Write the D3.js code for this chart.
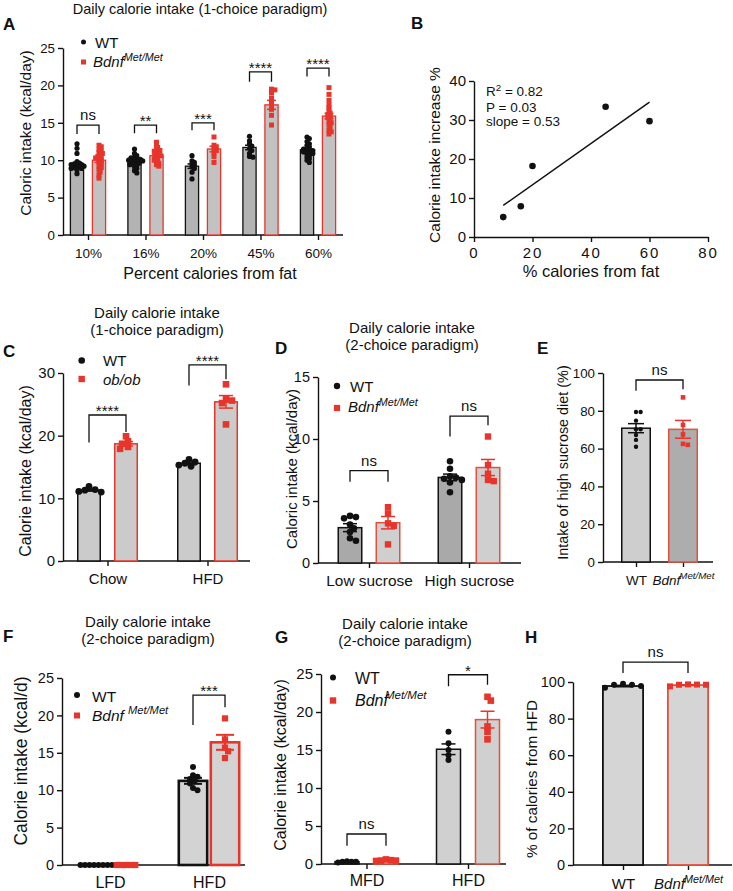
<!DOCTYPE html>
<html><head><meta charset="utf-8">
<script src="https://cdn.jsdelivr.net/npm/d3@7"></script>
<style>
body{margin:0;background:#fff}
svg{font-family:Arial,"Liberation Sans",Helvetica,sans-serif}
</style></head><body>
<svg id="fig" width="733" height="891"></svg>
<script>
// ================= DATA =================
// Panel A
const aCategories = ["10%","16%","20%","45%","60%"];
const aYTicks = [0,5,10,15,20,25];
const aWTMean = [9.45, 9.8, 9.2, 11.7, 11.4];
const aWTSem  = [0.25, 0.17, 0.3, 0.3, 0.2];
const aMutMean = [10.0, 10.6, 11.5, 17.4, 15.9];
const aMutSem  = [0.3, 0.2, 0.38, 0.6, 0.35];
const aWTPoints = [
  [12.2,11.6,10.9,9.4,9.8,9.6,9.5,9.4,9.3,9.2,9.1,9.0,8.9,8.7,8.2,8.9],
  [11.5,10.9,10.6,10.4,10.3,10.2,10.1,10.0,9.9,9.8,9.7,9.6,9.5,9.4,9.3,9.1,8.9,8.6,8.3,10.0],
  [10.6,9.9,9.7,9.5,9.3,9.1,8.9,8.4,7.5],
  [13.2,12.6,12.2,11.9,11.6,11.3,10.9,10.5,10.4],
  [13.1,12.9,12.5,12.2,12.0,11.8,11.6,11.5,11.4,11.3,11.2,11.1,11.0,10.9,10.8,10.6,10.4,10.2,10.0,9.7]
];
const aMutPoints = [
  [12.0,11.8,11.4,11.2,10.9,10.7,10.5,10.3,10.1,9.9,9.7,9.5,9.2,9.0,8.7,8.4,8.0,7.6,11.0,10.4],
  [12.4,12.0,11.7,11.4,11.2,11.0,10.8,10.7,10.5,10.3,10.1,10.0,9.8,9.6,9.4,9.2,11.3,10.6],
  [13.1,12.0,11.8,11.5,11.3,11.0,10.5,9.7],
  [19.5,19.4,19.0,18.3,17.8,17.2,16.8,16.0,14.7],
  [19.7,18.8,18.0,17.4,17.0,16.6,16.3,16.1,15.9,15.7,15.5,15.2,15.0,14.7,14.4,14.0,13.8,13.5]
];
const aBrackets = [
  {cat:0, y:14.7, l:13.5, r:13.5, label:"ns"},
  {cat:1, y:14.7, l:13.6, r:13.6, label:"**"},
  {cat:2, y:15.0, l:14.0, r:14.0, label:"***"},
  {cat:3, y:21.8, l:20.5, r:20.5, label:"****"},
  {cat:4, y:22.3, l:21.2, r:21.2, label:"****"}
];

// Panel B
const bFatPct = [10,16,20,45,60];
const bIncrease = [5.1,7.9,18.2,33.4,29.7];
const bFitX = [10,60];
const bFitY = [8.1,34.6];
const bXTicks = [0,20,40,60,80];
const bYTicks = [0,10,20,30,40];
const bStats = ["= 0.82","P = 0.03","slope = 0.53"];

// Panel C
const cCategories = ["Chow","HFD"];
const cYTicks = [0,10,20,30];
const cWTMean = [11.3,15.6];
const cWTSem = [0.15,0.2];
const cMutMean = [18.7,25.4];
const cMutSem = [0.35,1.0];
const cWTPoints = [[11.9,11.4,11.3,11.1,11.0],[16.2,15.8,15.6,15.3,15.1]];
const cMutPoints = [[19.9,19.1,18.7,18.2,17.9],[28.2,25.8,25.6,25.2,21.8]];
const cBrackets = [
  {cat:0, y:23.3, l:18.9, r:20.6, label:"****"},
  {cat:1, y:31.3, l:28.0, r:29.0, label:"****"}
];

// Panel D
const dCategories = ["Low sucrose","High sucrose"];
const dYTicks = [0,5,10,15];
const dWTMean = [2.85,6.9];
const dWTSem = [0.32,0.27];
const dMutMean = [3.25,7.7];
const dMutSem = [0.5,0.65];
const dWTPoints = [[3.8,3.7,3.6,3.1,2.8,2.5,2.0,1.8],[8.2,7.6,7.0,6.9,6.8,6.7,6.5,5.7]];
const dMutPoints = [[4.5,4.0,3.2,3.0,1.5],[10.2,7.9,7.2,6.7,6.6]];
const dBrackets = [
  {cat:0, y:7.45, l:6.55, r:6.55, label:"ns"},
  {cat:1, y:11.85, l:10.2, r:11.1, label:"ns"}
];

// Panel E
const eCategories = ["WT","Bdnf"];
const eYTicks = [0,20,40,60,80,100];
const eMean = [70.8,70.2];
const eSem = [2.4,4.7];
const ePoints = [[79.4,79.4,74.8,70.2,70.2,67.2,64.6,61.0],[87.1,72.5,67.5,62.0,62.5]];
const eBracket = {y:96.3, l:90.6, r:91.4, label:"ns"};

// Panel F
const fCategories = ["LFD","HFD"];
const fYTicks = [0,5,10,15,20,25];
const fWTMean = [0,11.25];
const fWTSem = [0,0.4];
const fMutMean = [0,16.4];
const fMutSem = [0,1.0];
const fWTPoints = [[0,0,0,0,0,0,0,0],[13.1,12.0,11.8,11.5,11.2,10.9,10.3,10.0]];
const fMutPoints = [[0,0,0,0,0],[19.6,16.8,15.7,15.2,14.3]];
const fBrackets = [{cat:1, y:22.7, l:18.7, r:21.1, label:"***"}];

// Panel G
const gCategories = ["MFD","HFD"];
const gYTicks = [0,5,10,15,20,25];
const gWTMean = [0.3,15.1];
const gWTSem = [0.04,0.7];
const gMutMean = [0.45,19.0];
const gMutSem = [0.05,1.1];
const gWTPoints = [[0.35,0.3,0.3,0.3,0.2],[17.4,15.9,15.0,14.3,13.7]];
const gMutPoints = [[0.6,0.5,0.45,0.45,0.4],[22.0,21.5,18.1,17.4,16.4]];
const gBrackets = [
  {cat:0, y:3.95, l:2.4, r:2.4, label:"ns"},
  {cat:1, y:24.9, l:23.4, r:23.6, label:"*"}
];

// Panel H
const hCategories = ["WT","Bdnf"];
const hYTicks = [0,20,40,60,80,100];
const hMean = [97.8,98.3];
const hSem = [0.4,0.2];
const hPoints = [[97.8,99.0,98.5,98.5,96.8],[98.5,98.7,98.5,98.6,97.6]];
const hBracket = {y:110.9, l:104.9, r:104.9, label:"ns"};

// ================= DRAWING =================
const svg = d3.select("#fig");
const RED = "#e8352b";
const FONT = "Arial, 'Liberation Sans', Helvetica, sans-serif";
const pick = (v,i) => Array.isArray(v) ? v[i] : v;

function mutText(sel, base, sup, dx) {
  sel.text(null);
  sel.append("tspan").attr("font-style","italic").text(base);
  sel.append("tspan").attr("font-style","italic").attr("font-size","0.72em")
     .attr("dy","-0.55em").attr("dx", dx||0).text(sup);
}

function txt(x, y, s, size, opts={}) {
  const t = svg.append("text").attr("x",x).attr("y",y).attr("font-size",size)
    .attr("font-family",FONT).attr("fill","#111")
    .attr("text-anchor", opts.anchor || "middle").text(s);
  if (opts.bold) t.attr("font-weight","bold");
  if (opts.italic) t.attr("font-style","italic");
  return t;
}
function ylabel(cx, cy, s, size) {
  svg.append("text").attr("transform",`translate(${cx},${cy}) rotate(-90)`)
    .attr("text-anchor","middle").attr("dominant-baseline","central")
    .attr("font-size",size).attr("font-family",FONT).attr("fill","#111").text(s);
}
function styleAxis(sel, size, sw) {
  sel.attr("font-family",FONT).attr("font-size",size);
  sel.selectAll("path,line").attr("stroke","#111").attr("stroke-width",sw||1.4);
  sel.selectAll("text").attr("fill","#111");
}

function swarm(values, yScale, r, minDist, step) {
  const order = values.map((v,i)=>({v,i,y:yScale(v)})).sort((a,b)=>a.y-b.y);
  const placed = [];
  const out = new Array(values.length);
  order.forEach(p => {
    let dx = 0;
    for (let n=0; n<400; n++) {
      dx = n===0 ? 0 : (n%2 ? 1 : -1) * Math.ceil(n/2) * step;
      if (placed.every(q => Math.hypot(q.x-dx, q.y-p.y) >= minDist)) break;
    }
    placed.push({x:dx, y:p.y});
    out[p.i] = {v:p.v, dx, y:p.y};
  });
  return out;
}

function drawSymbol(g, shape, x, y, r, color) {
  if (shape === "circle") {
    g.append("circle").attr("cx",x).attr("cy",y).attr("r",r).attr("fill",color);
  } else {
    g.append("rect").attr("x",x-r).attr("y",y-r).attr("width",2*r).attr("height",2*r).attr("fill",color);
  }
}

function barPanel(o) {
  const g = svg.append("g");
  const y = d3.scaleLinear().domain([0, d3.max(o.yTicks)]).range([o.y0, o.y1]);
  const xg = d3.scalePoint().domain(o.cats).range(o.centers);
  const keys = o.series.map(s => s.key);
  const half = keys.length > 1 ? (o.d + o.w)/2 : o.w/2;
  const xs = d3.scaleBand().domain(keys).range([-half, half])
    .paddingInner(keys.length > 1 ? 1 - o.w/o.d : 0).paddingOuter(0);
  const bw = xs.bandwidth();
  const cx = (ci, key) => xg(o.cats[ci]) + xs(key) + bw/2;

  // axes
  const ya = g.append("g").attr("transform",`translate(${o.x0},0)`)
    .call(d3.axisLeft(y).tickValues(o.yTicks).tickSize(5).tickSizeOuter(0).tickPadding(3).tickFormat(d3.format("d")));
  styleAxis(ya, o.yTickFont);
  const xa = g.append("g").attr("transform",`translate(0,${o.y0})`)
    .call(d3.axisBottom(xg).tickSize(o.xTickSize).tickPadding(o.xTickPad).tickSizeOuter(0));
  xa.select(".domain").remove();
  styleAxis(xa, o.xTickFont);
  xa.selectAll(".tick text").each(function(d){
    if (d === "Bdnf") mutText(d3.select(this), "Bdnf", "Met/Met", -1);
  });
  g.append("line").attr("x1",o.x0).attr("x2",o.x1).attr("y1",o.y0).attr("y2",o.y0)
    .attr("stroke","#111").attr("stroke-width",1.4);

  // bars
  o.series.forEach(s => {
    s.means.forEach((m, ci) => {
      if (m <= 0) return;
      const x = cx(ci, s.key);
      const sw = pick(s.strokeWidth, ci);
      g.append("rect").attr("x", x - bw/2 + sw/2).attr("width", bw - sw)
        .attr("y", y(m)).attr("height", y(0) - y(m))
        .attr("fill", pick(s.fill, ci)).attr("stroke", pick(s.stroke, ci)).attr("stroke-width", sw);
    });
  });
  // points
  o.series.forEach(s => {
    s.points.forEach((vals, ci) => {
      const x = cx(ci, s.key);
      const r = pick(s.r, ci);
      const sw = swarm(vals, y, r, o.minDist * r, o.step * r);
      sw.forEach(p => drawSymbol(g, pick(s.shape, ci), x + p.dx, p.y, r, pick(s.color, ci)));
    });
  });
  // error bars
  o.series.forEach(s => {
    s.means.forEach((m, ci) => {
      const e = s.sems[ci];
      if (!e) return;
      const x = cx(ci, s.key);
      const col = pick(s.errColor, ci);
      const ew = o.errWidth || 1.5;
      g.append("line").attr("x1",x).attr("x2",x).attr("y1",y(m-e)).attr("y2",y(m+e)).attr("stroke",col).attr("stroke-width",ew);
      [m-e, m+e].forEach(v => g.append("line").attr("x1",x-o.cap/2).attr("x2",x+o.cap/2)
        .attr("y1",y(v)).attr("y2",y(v)).attr("stroke",col).attr("stroke-width",ew));
    });
  });
  // brackets
  o.brackets.forEach(b => {
    const xl = b.a ? cx(b.a[0], keys[b.a[1]]) : cx(b.cat, keys[0]);
    const xr = b.b ? cx(b.b[0], keys[b.b[1]]) : cx(b.cat, keys[keys.length-1]);
    g.append("path").attr("d", `M${xl},${y(b.l)}V${y(b.y)}H${xr}V${y(b.r)}`)
      .attr("fill","none").attr("stroke","#111").attr("stroke-width",1.3);
    const star = b.label.includes("*");
    g.append("text").attr("x",(xl+xr)/2).attr("y", y(b.y) + (star ? o.starDy : -5))
      .attr("text-anchor","middle").attr("font-size", o.sigFont).attr("font-family",FONT)
      .attr("fill","#111").text(b.label);
  });
  return {y, xg};
}

function legend(items) {
  items.forEach(it => {
    drawSymbol(svg, it.shape, it.x, it.y, it.r, it.color);
    const t = txt(it.tx, it.ty, it.label, it.size, {anchor:"start", italic: it.italic});
    if (it.sup) mutText(t, it.label, it.sup, it.supDx || 0);
  });
}

// ---------- Panel A ----------
txt(200, 14, "Daily calorie intake (1-choice paradigm)", 14.5);
txt(3, 30, "A", 17, {anchor:"start", bold:true});
barPanel({
  x0:63, x1:343, y0:235, y1:48, yTicks:aYTicks, yTickFont:13.3,
  cats:aCategories, centers:[88,318], d:22, w:14.5, cap:9,
  xTickSize:5, xTickPad:8, xTickFont:13.5, minDist:1.0, step:0.45, sigFont:15, starDy:1,
  series:[
    {key:"WT", means:aWTMean, sems:aWTSem, points:aWTPoints, fill:"#b3b3b3", stroke:"#111", strokeWidth:1.3, shape:"circle", color:"#111", r:2.6, errColor:"#111"},
    {key:"Mut", means:aMutMean, sems:aMutSem, points:aMutPoints, fill:"#c2c2c2", stroke:RED, strokeWidth:1.3, shape:"square", color:RED, r:2.5, errColor:RED}
  ],
  brackets:aBrackets
});
ylabel(25.5, 133, "Caloric intake (kcal/day)", 15.5);
txt(210, 279, "Percent calories from fat", 16);
legend([
  {shape:"circle", r:2.5, color:"#111", x:83.5, y:42, tx:95, ty:47.5, label:"WT", size:15},
  {shape:"square", r:2.5, color:RED, x:83.5, y:62, tx:93, ty:67, label:"Bdnf", sup:"Met/Met", size:15}
]);

// ---------- Panel B ----------
txt(411, 29, "B", 17, {anchor:"start", bold:true});
{
  const bx = d3.scaleLinear().domain([0,80]).range([474,708]);
  const by = d3.scaleLinear().domain([0,40]).range([237,81]);
  const xa = svg.append("g").attr("transform","translate(0,237)")
    .call(d3.axisBottom(bx).tickValues(bXTicks).tickSize(5).tickSizeOuter(0).tickPadding(5));
  styleAxis(xa, 15);
  xa.selectAll(".tick text").attr("letter-spacing","2px");
  const ya = svg.append("g").attr("transform","translate(474,0)")
    .call(d3.axisLeft(by).tickValues(bYTicks).tickSize(5).tickSizeOuter(0).tickPadding(3));
  styleAxis(ya, 15);
  svg.append("line").attr("x1",bx(bFitX[0])).attr("y1",by(bFitY[0])).attr("x2",bx(bFitX[1])).attr("y2",by(bFitY[1]))
    .attr("stroke","#111").attr("stroke-width",1.5);
  bFatPct.forEach((v,i) => svg.append("circle").attr("cx",bx(v)).attr("cy",by(bIncrease[i])).attr("r",3.3).attr("fill","#111"));
  const t0 = txt(486, 96, "R", 13.5, {anchor:"start"});
  t0.append("tspan").attr("font-size","0.72em").attr("dy","-0.5em").text("2");
  t0.append("tspan").attr("dy","0.36em").text(" " + bStats[0]);
  txt(486, 112, bStats[1], 13.5, {anchor:"start"});
  txt(486, 126, bStats[2], 13.5, {anchor:"start"});
}
ylabel(434, 155, "Calorie intake increase %", 15.5);
txt(591, 277, "% calories from fat", 16.5);

// ---------- Panel C ----------
txt(157, 318, "Daily calorie intake", 15);
txt(157, 335, "(1-choice paradigm)", 15);
txt(3, 357, "C", 17, {anchor:"start", bold:true});
barPanel({
  x0:63, x1:250, y0:561, y1:373, yTicks:cYTicks, yTickFont:15,
  cats:cCategories, centers:[107.5,207.5], d:37, w:24, cap:14,
  xTickSize:5, xTickPad:7, xTickFont:15, minDist:1.6, step:0.6, sigFont:15, starDy:1,
  series:[
    {key:"WT", means:cWTMean, sems:cWTSem, points:cWTPoints, fill:"#cbcbcb", stroke:"#111", strokeWidth:1.5, shape:"circle", color:"#111", r:3.4, errColor:"#111"},
    {key:"Mut", means:cMutMean, sems:cMutSem, points:cMutPoints, fill:"#cbcbcb", stroke:RED, strokeWidth:1.5, shape:"square", color:RED, r:3.3, errColor:RED}
  ],
  brackets:cBrackets
});
ylabel(25.5, 471, "Calorie intake (kcal/day)", 16);
legend([
  {shape:"circle", r:3.3, color:"#111", x:81.7, y:360.5, tx:103, ty:366, label:"WT", size:15},
  {shape:"square", r:3.2, color:RED, x:81.7, y:379, tx:103, ty:385, label:"ob/ob", italic:true, size:15}
]);

// ---------- Panel D ----------
txt(412, 333, "Daily calorie intake", 15);
txt(412, 350, "(2-choice paradigm)", 15);
txt(275, 354, "D", 17, {anchor:"start", bold:true});
barPanel({
  x0:318, x1:521, y0:563, y1:377, yTicks:dYTicks, yTickFont:14.5,
  cats:dCategories, centers:[369,469], d:38, w:25, cap:14,
  xTickSize:5, xTickPad:7, xTickFont:15.4, minDist:1.6, step:0.6, sigFont:15, starDy:1,
  series:[
    {key:"WT", means:dWTMean, sems:dWTSem, points:dWTPoints, fill:"#a9a9a9", stroke:"#111", strokeWidth:1.5, shape:"circle", color:"#111", r:3.3, errColor:"#111"},
    {key:"Mut", means:dMutMean, sems:dMutSem, points:dMutPoints, fill:"#cfcfcf", stroke:"#e4513f", strokeWidth:1.5, shape:"square", color:RED, r:3.2, errColor:RED}
  ],
  brackets:dBrackets
});
ylabel(291.5, 469, "Caloric intake (kcal/day)", 15);
legend([
  {shape:"circle", r:3.2, color:"#111", x:337, y:386, tx:350, ty:391.5, label:"WT", size:15},
  {shape:"square", r:3.1, color:RED, x:337, y:408, tx:348, ty:412, label:"Bdnf", sup:"Met/Met", size:15}
]);

// ---------- Panel E ----------
txt(537, 354, "E", 17, {anchor:"start", bold:true});
barPanel({
  x0:603, x1:713, y0:562, y1:373, yTicks:eYTicks, yTickFont:13.3,
  cats:eCategories, centers:[636,683], d:47, w:30, cap:16,
  xTickSize:5, xTickPad:8, xTickFont:13.5, minDist:1.7, step:0.7, sigFont:15, starDy:1,
  series:[
    {key:"v", means:eMean, sems:eSem, points:ePoints, fill:["#cecece","#adadad"], stroke:["#111","#e4513f"], strokeWidth:1.5, shape:["circle","square"], color:["#111",RED], r:[2.2,2.3], errColor:["#111",RED]}
  ],
  brackets:[Object.assign({a:[0,0], b:[1,0]}, eBracket)]
});
ylabel(563, 462.5, "Intake of high sucrose diet (%)", 14.4);

// ---------- Panel F ----------
txt(148, 627, "Daily calorie intake", 15);
txt(148, 644, "(2-choice paradigm)", 15);
txt(3, 642, "F", 17, {anchor:"start", bold:true});
barPanel({
  x0:62, x1:245, y0:865, y1:678, yTicks:fYTicks, yTickFont:14.5,
  cats:fCategories, centers:[110,209], d:32, w:31, cap:18,
  xTickSize:0, xTickPad:12, xTickFont:16, minDist:1.45, step:0.5, sigFont:15, starDy:1, errWidth:2,
  series:[
    {key:"WT", means:fWTMean, sems:fWTSem, points:fWTPoints, fill:"#d3d3d3", stroke:"#111", strokeWidth:2.6, shape:"circle", color:"#111", r:3, errColor:"#111"},
    {key:"Mut", means:fMutMean, sems:fMutSem, points:fMutPoints, fill:"#d3d3d3", stroke:RED, strokeWidth:2.6, shape:"square", color:RED, r:3.1, errColor:RED}
  ],
  brackets:fBrackets
});
ylabel(21, 761, "Calorie intake (kcal/d)", 17.5);
legend([
  {shape:"circle", r:3, color:"#111", x:77, y:695, tx:92, ty:701.5, label:"WT", size:15.5},
  {shape:"square", r:3, color:RED, x:77, y:715.5, tx:92, ty:720.5, label:"Bdnf", sup:"Met/Met", supDx:4, size:15.5}
]);

// ---------- Panel G ----------
txt(405, 629, "Daily calorie intake", 15);
txt(405, 646, "(2-choice paradigm)", 15);
txt(275, 643, "G", 17, {anchor:"start", bold:true});
barPanel({
  x0:321, x1:506, y0:864, y1:674, yTicks:gYTicks, yTickFont:15,
  cats:gCategories, centers:[366.5,468], d:39, w:25.5, cap:14,
  xTickSize:5, xTickPad:6, xTickFont:16, minDist:1.5, step:0.5, sigFont:15, starDy:1,
  series:[
    {key:"WT", means:gWTMean, sems:gWTSem, points:gWTPoints, fill:"#d0d0d0", stroke:"#111", strokeWidth:1.5, shape:"circle", color:"#111", r:3, errColor:"#111"},
    {key:"Mut", means:gMutMean, sems:gMutSem, points:gMutPoints, fill:"#d0d0d0", stroke:"#e4513f", strokeWidth:1.5, shape:"square", color:RED, r:3.3, errColor:RED}
  ],
  brackets:gBrackets
});
ylabel(280.5, 765, "Calorie intake (kcal/day)", 16);
legend([
  {shape:"circle", r:3, color:"#111", x:333, y:677.5, tx:355, ty:683.5, label:"WT", size:16},
  {shape:"square", r:3.2, color:RED, x:333, y:700.5, tx:355, ty:705.5, label:"Bdnf", sup:"Met/Met", supDx:-3, size:16}
]);

// ---------- Panel H ----------
txt(525, 643, "H", 17, {anchor:"start", bold:true});
barPanel({
  x0:573, x1:732, y0:865, y1:682, yTicks:hYTicks, yTickFont:14.5,
  cats:hCategories, centers:[623,688], d:65, w:42, cap:20,
  xTickSize:5, xTickPad:8, xTickFont:15, minDist:3.0, step:1.5, sigFont:15, starDy:1,
  series:[
    {key:"v", means:hMean, sems:hSem, points:hPoints, fill:"#d5d5d5", stroke:["#111","#e4513f"], strokeWidth:1.8, shape:["circle","square"], color:["#111",RED], r:[3,3], errColor:["#111",RED]}
  ],
  brackets:[Object.assign({a:[0,0], b:[1,0]}, hBracket)]
});
ylabel(531.5, 779, "% of calories from HFD", 15.3);
</script>
</body></html>
